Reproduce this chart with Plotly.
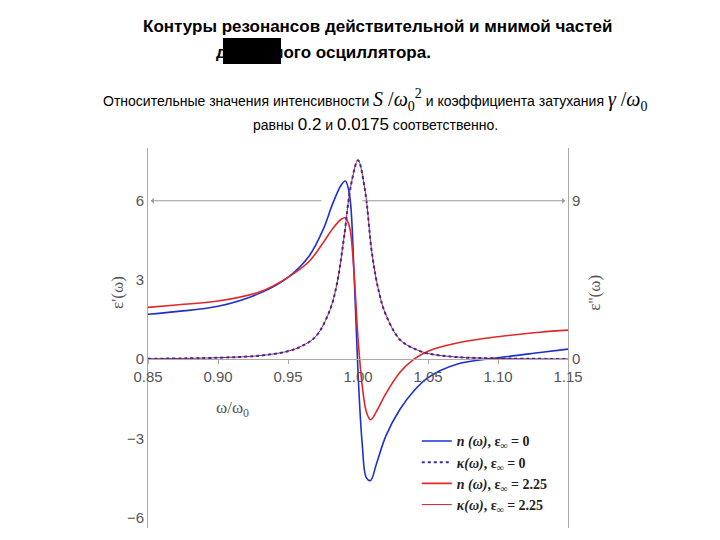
import plotly.graph_objects as go

# values
w_n = [0.85, 0.87, 0.90, 0.93, 0.95, 0.965, 0.975, 0.982, 0.988, 0.991, 0.994, 0.997, 1.000, 1.003, 1.006, 1.009, 1.013, 1.02, 1.03, 1.04, 1.05, 1.07, 1.10, 1.13, 1.15]
n0 = [1.7, 1.8, 2.0, 2.5, 3.1, 3.9, 4.9, 5.9, 6.6, 6.75, 6.2, 3.5, -0.5, -3.2, -4.5, -4.6, -4.0, -2.9, -1.9, -1.2, -0.7, -0.2, 0.05, 0.25, 0.38]
n225 = [1.96, 2.05, 2.2, 2.55, 3.1, 3.7, 4.4, 4.95, 5.3, 5.35, 5.0, 3.4, 0.8, -1.0, -2.0, -2.3, -2.0, -1.3, -0.5, 0.0, 0.3, 0.6, 0.85, 1.02, 1.1]
w_k = [0.85, 0.90, 0.93, 0.95, 0.96, 0.97, 0.98, 0.985, 0.99, 0.995, 1.000, 1.005, 1.01, 1.015, 1.02, 1.03, 1.04, 1.05, 1.07, 1.10, 1.15]
k0 = [0.02, 0.08, 0.2, 0.45, 0.75, 1.3, 2.8, 4.3, 6.9, 9.9, 11.3, 9.6, 6.0, 3.8, 2.5, 1.1, 0.6, 0.32, 0.12, 0.04, 0.01]
k225 = [0.02, 0.08, 0.2, 0.45, 0.75, 1.3, 2.8, 4.3, 6.9, 9.9, 11.3, 9.6, 6.0, 3.8, 2.5, 1.1, 0.6, 0.32, 0.12, 0.04, 0.01]
x_ticks = [0.85, 0.90, 0.95, 1.00, 1.05, 1.10, 1.15]

ylo, yhi = -6.4, 8.0
pos0 = (0 - ylo) / (yhi - ylo)
serif = "Liberation Serif"
H = 380  # plot height in px


def py(px):
    # paper y for a pixel row above the plot
    return 1 + (140 - px) / H


fig = go.Figure()
fig.add_trace(go.Scatter(x=w_k, y=k225, yaxis="y2", mode="lines",
                         line=dict(color="#c02030", width=1, shape="spline"), legendrank=4,
                         name="<b><i>κ(ω)</i>, ε<sub>∞</sub> = 2.25</b>"))
fig.add_trace(go.Scatter(x=w_n, y=n0, mode="lines", line=dict(color="#1f2fd0", width=1.6, shape="spline"),
                         legendrank=1, name="<b><i>n (ω)</i>, ε<sub>∞</sub> = 0</b>"))
fig.add_trace(go.Scatter(x=w_k, y=k0, yaxis="y2", mode="lines",
                         line=dict(color="#3a2aa0", width=2, dash="dot", shape="spline"),
                         legendrank=2, name="<b><i>κ(ω)</i>, ε<sub>∞</sub> = 0</b>"))
fig.add_trace(go.Scatter(x=w_n, y=n225, mode="lines", line=dict(color="#e02828", width=1.6, shape="spline"),
                         legendrank=3, name="<b><i>n (ω)</i>, ε<sub>∞</sub> = 2.25</b>"))

fig.update_layout(
    width=720, height=540, plot_bgcolor="white", paper_bgcolor="white",
    margin=dict(l=140, r=160, t=140, b=20, autoexpand=False),
    font=dict(family="Liberation Sans", color="#444", size=14),
    xaxis=dict(range=[0.85, 1.15], tickvals=x_ticks, ticktext=[f"{v:.2f}" for v in x_ticks],
               anchor="free", position=pos0, showline=True, linecolor="#aaa",
               ticks="outside", ticklen=4, tickcolor="#aaa", showgrid=False, zeroline=False,
               tickfont=dict(size=15, color="#555")),
    yaxis=dict(range=[ylo, yhi], tickvals=[-6, -3, 0, 3, 6], showline=True, linecolor="#aaa",
               showgrid=False, zeroline=False, ticks="", tickfont=dict(size=15, color="#555")),
    yaxis2=dict(range=[ylo * 1.5, yhi * 1.5], overlaying="y", side="right", tickvals=[0, 9],
                showline=True, linecolor="#aaa", showgrid=False, zeroline=False,
                tickfont=dict(size=15, color="#555"), anchor="x"),
    legend=dict(x=0.64, y=0.02, xanchor="left", yanchor="bottom", traceorder="normal",
                font=dict(family=serif, size=14, color="#222"), bgcolor="rgba(255,255,255,0)"),
    showlegend=True,
)

# arrows at level 6
fig.add_annotation(x=0.852, y=6, ax=0.975, ay=6, xref="x", yref="y", axref="x", ayref="y",
                   text="", showarrow=True, arrowhead=1, arrowwidth=1, arrowcolor="#999")
fig.add_annotation(x=1.148, y=6, ax=1.002, ay=6, xref="x", yref="y", axref="x", ayref="y",
                   text="", showarrow=True, arrowhead=1, arrowwidth=1, arrowcolor="#999")
fig.add_annotation(x=0.91, y=-1.9, xref="x", yref="y", text="ω/ω<sub>0</sub>", showarrow=False,
                   font=dict(family=serif, size=17, color="#555"))
fig.add_annotation(x=-0.1, y=0.62, xref="paper", yref="paper", text="ε'(ω)", textangle=-90,
                   showarrow=False, font=dict(family=serif, size=17, color="#555"))
fig.add_annotation(x=1.09, y=0.62, xref="paper", yref="paper", text="ε''(ω)", textangle=-90,
                   showarrow=False, font=dict(family=serif, size=17, color="#555"))

# titles
fig.add_annotation(x=(370 - 140) / 420, y=py(18), xref="paper", yref="paper", yanchor="middle",
                   text="<b>Контуры резонансов действительной и мнимой частей</b>", showarrow=False,
                   font=dict(size=17, color="black"))
fig.add_annotation(x=(425 - 140) / 420, y=py(44), xref="paper", yref="paper", yanchor="middle",
                   text="<b>для одного осциллятора.</b>", showarrow=False,
                   font=dict(size=17, color="black"))
fig.add_shape(type="rect", xref="paper", yref="paper", x0=(215 - 140) / 420, x1=(273 - 140) / 420,
              y0=py(56), y1=py(30), fillcolor="black", line_width=0)
fig.add_annotation(x=(367 - 140) / 420, y=py(92), xref="paper", yref="paper", yanchor="middle",
                   showarrow=False,
                   text="Относительные значения интенсивности <span style='font-family:Liberation Serif;font-size:20px'><i>S</i> /<i>ω</i><sub>0</sub><sup>2</sup></span>"
                        " и коэффициента затухания <span style='font-family:Liberation Serif;font-size:20px'><i>γ</i> /<i>ω</i><sub>0</sub></span>",
                   font=dict(size=14, color="black"))
fig.add_annotation(x=(367 - 140) / 420, y=py(116), xref="paper", yref="paper", yanchor="middle",
                   showarrow=False,
                   text="равны <span style='font-size:17px'>0.2</span> и <span style='font-size:17px'>0.0175</span> соответственно.",
                   font=dict(size=14, color="black"))

fig.write_html("out.html")
